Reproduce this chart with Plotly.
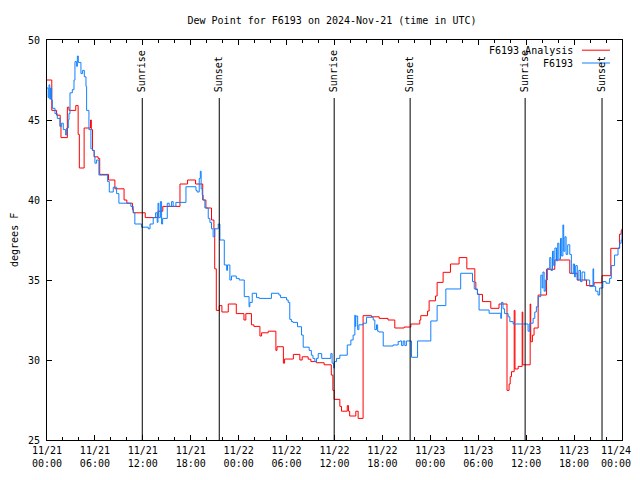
import plotly.graph_objects as go
from datetime import datetime, timedelta

# ---- data (hours since 2024-11-21 00:00 UTC, degrees F) ----
analysis_hours = [0.0, 0.6, 1.2, 1.65, 1.75, 2.55, 2.75, 3.6, 3.9, 4.05, 4.65, 5.45, 5.55, 5.7, 5.9,
                  6.4, 6.6, 7.7, 8.5, 9.65, 10.0, 10.7, 10.8, 12.3, 13.9, 14.5, 16.65, 17.6, 18.6,
                  19.5, 19.9, 20.6, 20.9, 21.0, 21.2, 21.57, 21.9, 22.7, 23.7, 24.66, 24.9, 25.6,
                  25.9, 26.66, 26.87, 27.7, 28.66, 28.8, 29.6, 29.75, 30.85, 31.66, 31.95, 32.7,
                  33.04, 33.75, 34.7, 35.6, 35.8, 35.96, 36.67, 36.88, 37.6, 37.75, 37.9, 38.67,
                  38.96, 39.58, 40.64, 41.6, 42.7, 43.55, 44.72, 45.56, 46.68, 46.8, 47.65, 47.85,
                  48.65, 48.85, 49.6, 50.52, 51.6, 52.57, 53.57, 53.7, 53.9, 54.53, 55.57, 56.6,
                  57.6, 57.86, 58.0, 58.16, 58.5, 58.6, 59.0, 59.5, 59.58, 60.5, 60.57, 60.78,
                  60.99, 61.5, 62.54, 63.58, 65.46, 66.4, 67.55, 68.5, 69.5, 70.6, 71.7, 71.9, 72.0]
analysis_values = [47.5, 45.6, 45.3, 44.6, 43.9, 45.8, 45.6, 45.9, 44.1, 42.0, 44.5, 45.0, 44.4, 43.1, 42.7,
                   42.6, 41.6, 41.25, 40.7, 40.0, 39.8, 39.4, 39.2, 38.9, 39.3, 39.6, 41.0, 41.25, 41.0,
                   40.0, 39.5, 38.75, 38.2, 35.7, 33.1, 33.4, 33.0, 33.5, 32.9, 32.5, 32.9, 32.2,
                   32.1, 31.5, 31.7, 31.8, 30.6, 30.83, 29.8, 30.06, 30.35, 30.0, 30.2, 30.05,
                   29.9, 29.83, 29.7, 29.06, 28.1, 27.54, 27.1, 26.8, 27.15, 26.8, 26.5, 26.8,
                   26.35, 32.77, 32.7, 32.6, 32.5, 32.0, 32.06, 32.25, 32.5, 32.77, 33.06, 33.7,
                   34.0, 34.85, 35.48, 36.0, 36.4, 35.7, 34.86, 34.4, 34.1, 33.65, 33.23, 33.5,
                   28.1, 28.5, 28.96, 29.27, 33.1, 29.44, 29.6, 33.0, 29.7, 33.5, 31.14, 31.55,
                   32.0, 34.06, 35.67, 36.25, 35.42, 35.0, 34.65, 34.83, 35.27, 36.98, 37.87, 38.1, 38.2]

obs_hours = [0.0, 0.15, 0.25, 0.35, 0.45, 0.58, 0.67, 1.0, 1.29, 1.63, 1.83, 2.04, 2.33, 2.46, 2.67,
             2.75, 2.88, 3.17, 3.38, 3.5, 3.71, 3.8, 3.92, 4.25, 4.46, 4.67, 4.88, 4.96, 5.25, 5.5,
             5.71, 5.92, 6.0, 6.21, 6.5, 7.59, 7.8, 8.3, 8.72, 9.0, 10.5, 10.8, 11.0, 11.85, 12.68,
             12.9, 13.3, 13.6, 13.8, 13.9, 14.0, 14.2, 14.35, 14.48, 15.06, 15.3, 15.6, 15.8, 16.14,
             17.4, 18.65, 18.8, 19.06, 19.2, 19.3, 19.44, 19.56, 19.77, 20.19, 20.4, 20.6, 20.8,
             21.0, 21.44, 21.65, 22.2, 22.5, 22.6, 22.9, 23.1, 23.7, 24.07, 24.7, 25.3, 25.4, 25.7,
             26.24, 26.57, 28.1, 29.04, 29.25, 30.0, 30.2, 30.4, 30.6, 30.8, 31.37, 31.87, 32.08,
             32.83, 33.1, 33.3, 33.54, 33.75, 33.96, 34.4, 35.54, 35.7, 35.9, 36.0, 36.25, 36.67,
             37.6, 38.05, 38.33, 38.55, 38.6, 38.67, 38.9, 39.05, 39.59, 40.0, 40.85, 41.05, 41.26,
             41.4, 41.55, 42.1, 43.34, 43.97, 44.2, 44.4, 44.6, 44.8, 45.0, 45.64, 46.4, 48.06,
             48.85, 49.94, 51.8, 53.28, 53.5, 53.9, 54.1, 55.36, 56.82, 56.9, 57.1, 57.3, 57.74,
             57.95, 58.37, 60.24, 60.45, 60.87, 61.08, 61.28, 61.5, 61.83, 62.0, 62.1, 62.25, 62.4,
             62.66, 62.95, 63.1, 63.3, 63.45, 63.6, 63.8, 63.95, 64.1, 64.3, 64.45, 64.6, 64.7,
             64.85, 65.0, 65.2, 65.46, 65.66, 65.9, 66.05, 66.2, 66.4, 66.6, 66.8, 67.0, 67.33,
             67.95, 68.37, 68.45, 68.7, 68.99, 69.2, 69.6, 70.0, 70.45, 70.66, 71.07, 71.5, 71.7,
             71.9, 72.0]
obs_values = [47.0, 46.4, 47.2, 46.3, 47.0, 46.25, 45.73, 45.4, 45.1, 44.6, 44.8, 44.4, 44.06, 44.5, 45.0,
              45.4, 46.7, 46.9, 47.5, 48.65, 48.35, 49.0, 48.6, 47.9, 48.1, 47.7, 47.1, 45.6, 44.4, 43.2,
              43.1, 42.7, 42.3, 42.5, 41.56, 41.15, 40.5, 40.8, 40.4, 39.8, 39.6, 39.2, 38.5, 38.3, 38.2,
              38.5, 38.9, 39.2, 38.6, 39.8, 38.9, 39.9, 38.5, 38.85, 39.8, 39.6, 39.9, 39.6, 39.85,
              40.83, 40.6, 40.5, 41.35, 41.8, 40.7, 40.3, 40.0, 39.5, 38.85, 38.6, 38.2, 37.7,
              38.2, 38.5, 37.5, 35.94, 35.6, 35.94, 35.0, 35.25, 35.1, 35.0, 33.96, 33.33, 33.6, 34.17,
              33.9, 33.85, 34.17, 34.06, 33.9, 33.75, 33.6, 32.54, 32.4, 32.35, 32.08, 31.56, 30.8,
              30.6, 30.3, 30.1, 29.9, 30.1, 30.4, 30.1, 30.4, 29.8, 29.5, 29.9, 30.1, 30.3,
              30.94, 31.25, 31.56, 32.8, 32.1, 32.75, 31.9, 32.2, 32.3, 32.67, 32.5, 31.9, 32.2,
              31.8, 31.75, 30.875, 30.94, 31.15, 31.19, 30.9, 31.19, 30.9, 31.19, 30.17, 31.19, 32.44,
              33.4, 34.44, 35.42, 34.9, 34.44, 34.125, 33.125, 32.92, 32.6, 33.6, 33.2, 32.9, 32.7,
              32.4, 32.25, 31.8, 32.3, 32.6, 33.0, 33.33, 33.96, 35.3, 34.5, 35.5, 34.3, 35.0,
              35.73, 36.4, 35.6, 36.8, 35.9, 37.0, 36.2, 37.3, 36.3, 37.6, 36.5, 38.44, 36.8,
              37.7, 36.6, 37.2, 36.6, 35.4, 36.0, 35.2, 35.9, 35.0, 35.6, 34.9, 35.5, 35.0,
              34.6, 35.7, 34.6, 34.3, 34.06, 34.5, 34.9, 34.8, 35.1, 35.9, 36.56, 37.0, 37.3,
              37.5, 38.1]

sun_hours = [11.93, 21.57, 35.96, 45.47, 59.87, 69.5]
sun_labels = ["Sunrise", "Sunset", "Sunrise", "Sunset", "Sunrise", "Sunset"]

tick_hours = [0, 6, 12, 18, 24, 30, 36, 42, 48, 54, 60, 66, 72]
# last label padded on the right so it stays fully inside the visible window
tick_labels = ["11/21<br>00:00", "11/21<br>06:00", "11/21<br>12:00", "11/21<br>18:00",
               "11/22<br>00:00", "11/22<br>06:00", "11/22<br>12:00", "11/22<br>18:00",
               "11/23<br>00:00", "11/23<br>06:00", "11/23<br>12:00", "11/23<br>18:00",
               "11/24&nbsp;&nbsp;<br>00:00&nbsp;&nbsp;"]
y_ticks = [25, 30, 35, 40, 45, 50]

base = datetime(2024, 11, 21)
def t(h):
    return base + timedelta(hours=h)

FONT = "DejaVu Sans Mono"
RED = "#ff0000"
BLUE = "#1080ff"

fig = go.Figure()
fig.add_trace(go.Scatter(x=[t(h) for h in analysis_hours], y=analysis_values, mode="lines",
                         line=dict(color=RED, width=1, shape="hv"), name="F6193 Analysis"))
fig.add_trace(go.Scatter(x=[t(h) for h in obs_hours], y=obs_values, mode="lines",
                         line=dict(color=BLUE, width=1, shape="hv"), name="F6193"))

# sunrise / sunset markers
for h, lab in zip(sun_hours, sun_labels):
    fig.add_shape(type="line", xref="x", yref="paper", x0=t(h), x1=t(h), y0=0, y1=0.855,
                  line=dict(color="black", width=1))
    fig.add_annotation(x=t(h), xref="x", y=0.8675, yref="paper", text=lab, textangle=-90,
                       showarrow=False, xanchor="center", yanchor="bottom",
                       font=dict(family=FONT, size=10, color="black"), borderpad=0)

# legend drawn gnuplot-style (text left of sample)
leg = [("F6193 Analysis", RED, 0.9745), ("F6193", BLUE, 0.9425)]
for txt, col, yy in leg:
    fig.add_annotation(x=0.9165, xref="paper", y=yy, yref="paper", text=txt, showarrow=False,
                       xanchor="right", yanchor="middle", font=dict(family=FONT, size=10, color="black"),
                       borderpad=0)
    fig.add_shape(type="line", xref="paper", yref="paper", x0=0.9304, x1=0.9791, y0=yy, y1=yy,
                  line=dict(color=col, width=1))

fig.add_annotation(x=-0.0574, xref="paper", y=0.5, yref="paper", text="degrees F", textangle=-90,
                   showarrow=False, xanchor="center", yanchor="middle",
                   font=dict(family=FONT, size=10, color="black"), borderpad=0)

# page body adds an 8px offset, so the figure is sized to land the plot area at 47..622 / 40..440
fig.update_layout(
    width=632, height=460,
    margin=dict(l=39, r=18, t=32, b=28, autoexpand=False),
    paper_bgcolor="white", plot_bgcolor="white",
    showlegend=False,
    font=dict(family=FONT, size=10, color="black"),
    title=dict(text="Dew Point for F6193 on 2024-Nov-21 (time in UTC)", x=(332 - 8) / 632, xanchor="center",
               y=1 - 12 / 460, yanchor="middle", font=dict(family=FONT, size=10, color="black")),
    xaxis=dict(range=[t(0), t(72)], tickvals=[t(h) for h in tick_hours], ticktext=tick_labels,
               ticks="inside", ticklen=5, tickcolor="black", showline=True, linecolor="black",
               linewidth=1, mirror="allticks", showgrid=False, zeroline=False, automargin=False,
               ticklabelstandoff=1, ticklabeloverflow="allow",
               minor=dict(dtick=2 * 3600 * 1000, ticks="inside", ticklen=3, tickcolor="black",
                          showgrid=False),
               tickfont=dict(family=FONT, size=10, color="black")),
    yaxis=dict(range=[25, 50], tickvals=y_ticks, ticks="inside", ticklen=5, tickcolor="black",
               showline=True, linecolor="black", linewidth=1, mirror="allticks", showgrid=False,
               zeroline=False, automargin=False, ticklabelstandoff=4,
               tickfont=dict(family=FONT, size=10, color="black")),
)

fig.write_html("out.html")
